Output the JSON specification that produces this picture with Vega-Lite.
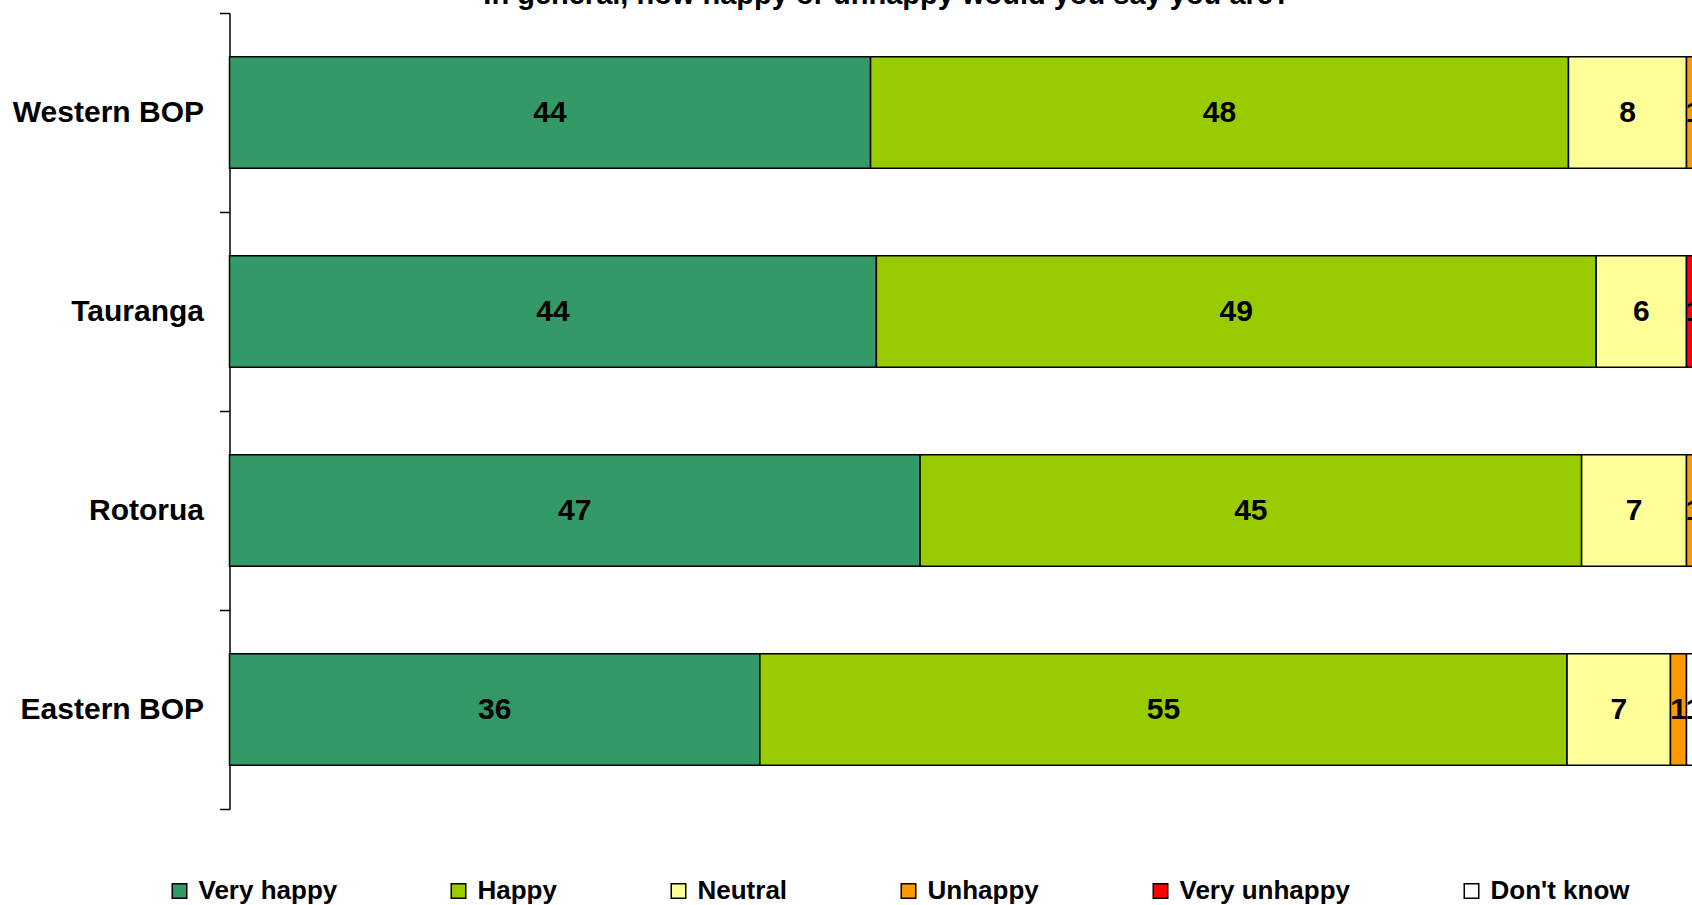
{
  "$schema": "https://vega.github.io/schema/vega-lite/v6.json",
  "width": 1457,
  "height": 796,
  "autosize": {"type": "none"},
  "padding": {"left": 229.5, "top": 13, "right": 5.5, "bottom": 96},
  "background": "white",
  "config": {"view": {"stroke": null}, "font": "Liberation Sans"},
  "title": {
    "text": "In general, how happy or unhappy would you say you are?",
    "fontSize": 29,
    "fontWeight": "bold",
    "font": "Liberation Sans",
    "color": "black",
    "anchor": "middle",
    "frame": "group",
    "dx": -71,
    "dy": 40,
    "baseline": "alphabetic",
    "offset": 5
  },
  "data": {
    "values": [
      {"region": "Western BOP", "cat": "Very happy", "ord": 1, "value": 44.0},
      {"region": "Western BOP", "cat": "Happy", "ord": 2, "value": 47.9},
      {"region": "Western BOP", "cat": "Neutral", "ord": 3, "value": 8.1},
      {"region": "Western BOP", "cat": "Unhappy", "ord": 4, "value": 1},
      {"region": "Tauranga", "cat": "Very happy", "ord": 1, "value": 44.4},
      {"region": "Tauranga", "cat": "Happy", "ord": 2, "value": 49.4},
      {"region": "Tauranga", "cat": "Neutral", "ord": 3, "value": 6.2},
      {"region": "Tauranga", "cat": "Very unhappy", "ord": 5, "value": 1},
      {"region": "Rotorua", "cat": "Very happy", "ord": 1, "value": 47.4},
      {"region": "Rotorua", "cat": "Happy", "ord": 2, "value": 45.4},
      {"region": "Rotorua", "cat": "Neutral", "ord": 3, "value": 7.2},
      {"region": "Rotorua", "cat": "Unhappy", "ord": 4, "value": 1},
      {"region": "Eastern BOP", "cat": "Very happy", "ord": 1, "value": 36.4},
      {"region": "Eastern BOP", "cat": "Happy", "ord": 2, "value": 55.4},
      {"region": "Eastern BOP", "cat": "Neutral", "ord": 3, "value": 7.1},
      {"region": "Eastern BOP", "cat": "Unhappy", "ord": 4, "value": 1.1},
      {"region": "Eastern BOP", "cat": "Don't know", "ord": 6, "value": 1}
    ]
  },
  "encoding": {
    "y": {
      "field": "region",
      "type": "nominal",
      "sort": ["Western BOP", "Tauranga", "Rotorua", "Eastern BOP"],
      "scale": {"paddingInner": 0, "paddingOuter": 0},
      "axis": {
        "title": null,
        "labelFontSize": 30,
        "labelFontWeight": "bold",
        "labelColor": "black",
        "labelFont": "Liberation Sans",
        "domainColor": "black",
        "domainWidth": 1.5,
        "tickColor": "black",
        "tickWidth": 1.5,
        "tickSize": 10,
        "labelPadding": 16,
        "tickBand": "extent",
        "labelLimit": 300
      }
    }
  },
  "layer": [
    {
      "mark": {"type": "bar", "height": {"band": 0.56}, "stroke": "black", "strokeWidth": 1.5},
      "encoding": {
        "x": {
          "field": "value",
          "type": "quantitative",
          "stack": "zero",
          "scale": {"domain": [0, 100], "nice": false},
          "axis": null
        },
        "color": {
          "field": "cat",
          "type": "nominal",
          "scale": {
            "domain": ["Very happy", "Happy", "Neutral", "Unhappy", "Very unhappy", "Don't know"],
            "range": ["#339966", "#99CC00", "#FFFF99", "#FF9900", "#FF0000", "#FFFFFF"]
          },
          "legend": {
            "title": null,
            "orient": "none",
            "direction": "horizontal",
            "columns": 6,
            "legendX": -63,
            "legendY": 865,
            "padding": 0,
            "symbolType": "square",
            "symbolSize": 210,
            "symbolStrokeColor": "black",
            "symbolStrokeWidth": 1.5,
            "symbolOpacity": 1,
            "labelFontSize": 26,
            "labelFontWeight": "bold",
            "labelFont": "Liberation Sans",
            "labelColor": "black",
            "labelOffset": 6,
            "labelLimit": 400,
            "columnPadding": 108
          }
        },
        "order": {"field": "ord", "type": "quantitative"}
      }
    },
    {
      "mark": {"type": "text", "fontSize": 30, "fontWeight": "bold", "font": "Liberation Sans", "color": "black", "baseline": "middle"},
      "encoding": {
        "x": {"field": "value", "type": "quantitative", "stack": "zero", "bandPosition": 0.5},
        "detail": {"field": "cat", "type": "nominal"},
        "order": {"field": "ord", "type": "quantitative"},
        "text": {"field": "value", "type": "quantitative", "format": ".0f"}
      }
    }
  ]
}
